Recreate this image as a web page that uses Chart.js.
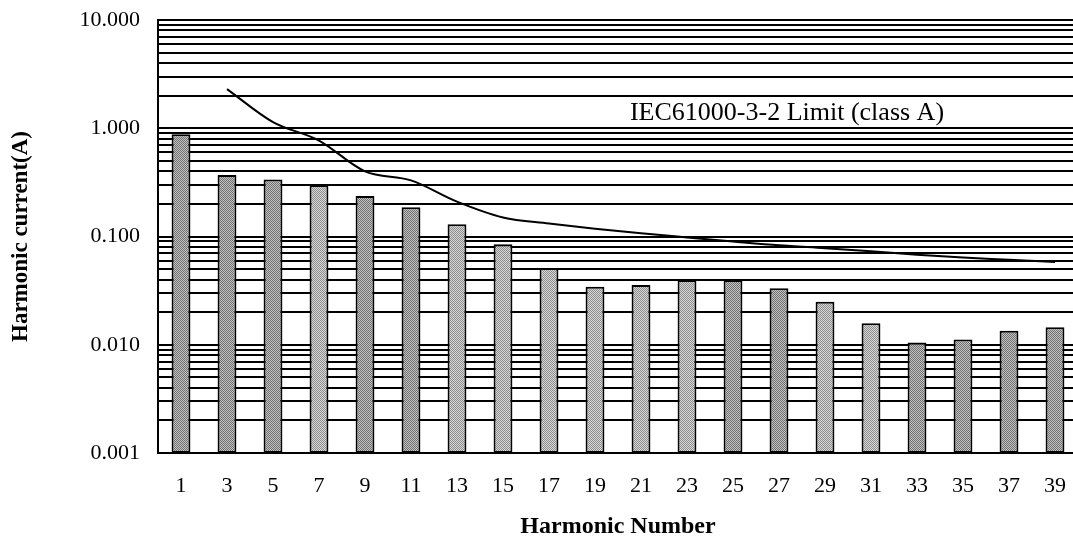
<!DOCTYPE html>
<html>
<head>
<meta charset="utf-8">
<script src="https://cdn.jsdelivr.net/npm/chart.js@4"></script>
<style>
  html, body { margin: 0; padding: 0; background: #fff; overflow: hidden; }
</style>
</head>
<body>
<canvas id="harmChart" width="1085" height="540"></canvas>
<script>
// harmonic orders on the x axis
const harmonics = ['1', '3', '5', '7', '9', '11', '13', '15', '17', '19',
                   '21', '23', '25', '27', '29', '31', '33', '35', '37', '39'];

// measured harmonic current (A)
const measured = [0.88, 0.37, 0.337, 0.297, 0.237, 0.186, 0.130, 0.085, 0.051, 0.0344,
                  0.0356, 0.0396, 0.0396, 0.0332, 0.025, 0.0158, 0.0105, 0.0112, 0.0135, 0.0145];

// IEC61000-3-2 class A limit (A), no limit for the fundamental
const limitA = [null, 2.30, 1.14, 0.77, 0.40, 0.33, 0.21, 0.15, 0.132, 0.118,
                0.107, 0.098, 0.090, 0.083, 0.078, 0.073, 0.068, 0.064, 0.061, 0.058];

// labelled y ticks
const yTickValues = [0.001, 0.01, 0.1, 1, 10];

// gridlines at 1..9 of every decade
const yGridValues = [];
yTickValues.slice(0, -1).forEach(d => {
    for (let k = 1; k <= 9; k++) yGridValues.push(+(k * d).toPrecision(3));
});
yGridValues.push(10);

// dithered grey fill like the scanned figure
function dither(dark, light) {
    const c = document.createElement('canvas');
    c.width = 2; c.height = 2;
    const g = c.getContext('2d');
    g.fillStyle = light; g.fillRect(0, 0, 2, 2);
    g.fillStyle = dark; g.fillRect(0, 0, 1, 1); g.fillRect(1, 1, 1, 1);
    return g.createPattern(c, 'repeat');
}
const shadeDark = dither('#6e6e6e', '#c4c4c4');
const shadeLight = dither('#8c8c8c', '#d8d8d8');
const barShades = [0, 0, 0, 1, 0, 0, 1, 1, 1, 1, 1, 1, 0, 0, 1, 1, 0, 0, 0, 0]
    .map(s => s ? shadeLight : shadeDark);

const serif = '"Liberation Serif", "Times New Roman", serif';

const limitLabel = {
    id: 'limitLabel',
    afterDraw(chart) {
        const ctx = chart.ctx;
        ctx.save();
        ctx.font = '26px ' + serif;
        ctx.fillStyle = '#000';
        ctx.textAlign = 'center';
        ctx.textBaseline = 'middle';
        ctx.fillText('IEC61000-3-2 Limit (class A)', 787, 113);
        ctx.restore();
    }
};

const ctx = document.getElementById('harmChart').getContext('2d');
new Chart(ctx, {
    type: 'bar',
    data: {
        labels: harmonics,
        datasets: [
            {
                type: 'line',
                label: 'IEC61000-3-2 Limit (class A)',
                data: limitA,
                borderColor: '#000',
                borderWidth: 2,
                pointRadius: 0,
                cubicInterpolationMode: 'monotone',
                fill: false,
                order: 0
            },
            {
                label: 'Harmonic current',
                data: measured,
                backgroundColor: barShades,
                borderColor: '#000',
                borderWidth: 2,
                borderSkipped: false,
                categoryPercentage: 1,
                barPercentage: 0.41,
                order: 1
            }
        ]
    },
    options: {
        responsive: false,
        animation: false,
        layout: { padding: { top: 20, right: 7, left: 0, bottom: 0 } },
        plugins: {
            legend: { display: false },
            tooltip: { enabled: false }
        },
        scales: {
            x: {
                grid: { display: false, drawTicks: false },
                border: { display: true, color: '#000', width: 2 },
                ticks: {
                    color: '#000',
                    font: { family: serif, size: 22 },
                    padding: 20,
                    autoSkip: false,
                    maxRotation: 0
                },
                title: {
                    display: true,
                    text: 'Harmonic Number',
                    color: '#000',
                    font: { family: serif, size: 24, weight: 'bold', lineHeight: 1 },
                    padding: { top: 0, bottom: 1 }
                },
                afterFit(scale) {
                    scale.height = 87;
                    scale.paddingLeft = 0;
                    scale.paddingRight = 0;
                }
            },
            y: {
                type: 'logarithmic',
                min: 0.001,
                max: 10,
                afterBuildTicks(scale) {
                    scale.ticks = yGridValues.map(v => ({ value: v }));
                },
                grid: { color: '#000', lineWidth: 2, drawTicks: false },
                border: { display: true, color: '#000', width: 2 },
                ticks: {
                    color: '#000',
                    font: { family: serif, size: 22 },
                    padding: 18,
                    autoSkip: false,
                    callback(value) {
                        return yTickValues.includes(value) ? value.toFixed(3) : '';
                    }
                },
                title: {
                    display: true,
                    text: 'Harmonic current(A)',
                    color: '#000',
                    font: { family: serif, size: 23, weight: 'bold', lineHeight: 1 },
                    padding: { top: 10, bottom: 0 }
                },
                afterFit(scale) {
                    scale.width = 158;
                    scale.paddingTop = 0;
                    scale.paddingBottom = 0;
                }
            }
        }
    },
    plugins: [limitLabel]
});
</script>
</body>
</html>
